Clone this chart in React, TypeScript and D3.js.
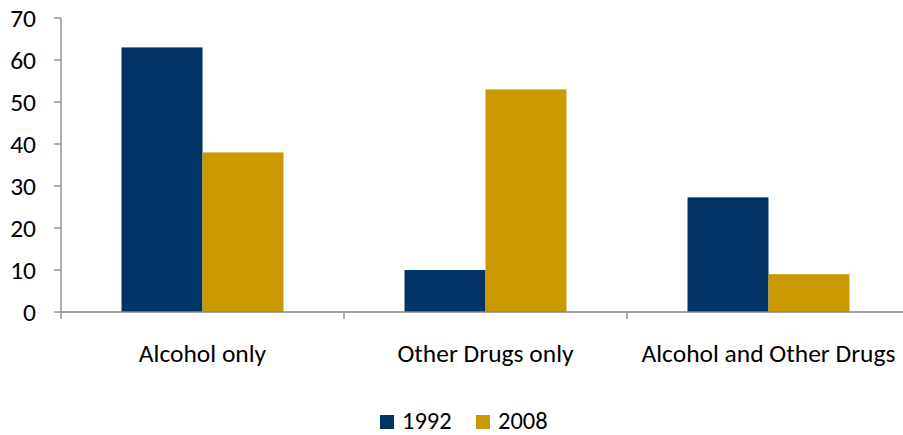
import React from "react";
import * as d3 from "d3";

const categories = ["Alcohol only", "Other Drugs only", "Alcohol and Other Drugs"];
const seriesNames = ["1992", "2008"];
const values1992 = [63, 10, 27.3];
const values2008 = [38, 53, 9];
const yTicks = [0, 10, 20, 30, 40, 50, 60, 70];
const colors = ["#003366", "#CC9900"];

const W = 903;
const H = 435;
const margin = { left: 61, top: 18, right: 910, bottom: 312 };
const FONT = "Carlito, Calibri, Lato, sans-serif";
const FS = 25.5;

export default function App() {
  const x0 = d3
    .scaleBand<string>()
    .domain(categories)
    .range([margin.left, margin.right])
    .paddingInner(0)
    .paddingOuter(0);
  const x1 = d3
    .scaleBand<string>()
    .domain(seriesNames)
    .range([0, x0.bandwidth()])
    .paddingInner(0)
    .paddingOuter(0.747);
  const y = d3.scaleLinear().domain([0, 70]).range([margin.bottom, margin.top]);
  const seriesData = [values1992, values2008];
  const catTickXs = categories.map((c) => x0(c)!).concat([margin.right]);

  return (
    <svg width={W} height={H} style={{ position: "absolute", left: 0, top: 0 }} fontFamily={FONT}>
      <rect width={W} height={H} fill="#fff" />
      {seriesData.map((vals, si) =>
        vals.map((v, ci) => (
          <rect
            key={`${si}-${ci}`}
            x={x0(categories[ci])! + x1(seriesNames[si])!}
            y={y(v)}
            width={x1.bandwidth()}
            height={y(0) - y(v)}
            fill={colors[si]}
          />
        ))
      )}
      {/* y axis */}
      <line x1={margin.left} x2={margin.left} y1={y(70)} y2={y(0)} stroke="#868686" strokeWidth={1.3} />
      {yTicks.map((t) => (
        <g key={t}>
          <line x1={margin.left - 7} x2={margin.left} y1={y(t)} y2={y(t)} stroke="#868686" strokeWidth={1.3} />
          <text x={36} y={y(t)} dy="0.35em" textAnchor="end" fontSize={FS} fill="#000">
            {t}
          </text>
        </g>
      ))}
      {/* x axis */}
      <line x1={margin.left} x2={margin.right} y1={y(0)} y2={y(0)} stroke="#868686" strokeWidth={1.3} />
      {catTickXs.map((xx, i) => (
        <line key={i} x1={xx} x2={xx} y1={y(0)} y2={y(0) + 7} stroke="#868686" strokeWidth={1.3} />
      ))}
      {categories.map((c) => (
        <text key={c} x={x0(c)! + x0.bandwidth() / 2} y={362} textAnchor="middle" fontSize={FS} fill="#000">
          {c}
        </text>
      ))}
      {/* legend */}
      {seriesNames.map((s, i) => (
        <g key={s} transform={`translate(${380 + i * 96},0)`}>
          <rect x={0} y={415} width={14} height={14} fill={colors[i]} />
          <text x={22} y={429} fontSize={24.5} fill="#000">
            {s}
          </text>
        </g>
      ))}
    </svg>
  );
}
